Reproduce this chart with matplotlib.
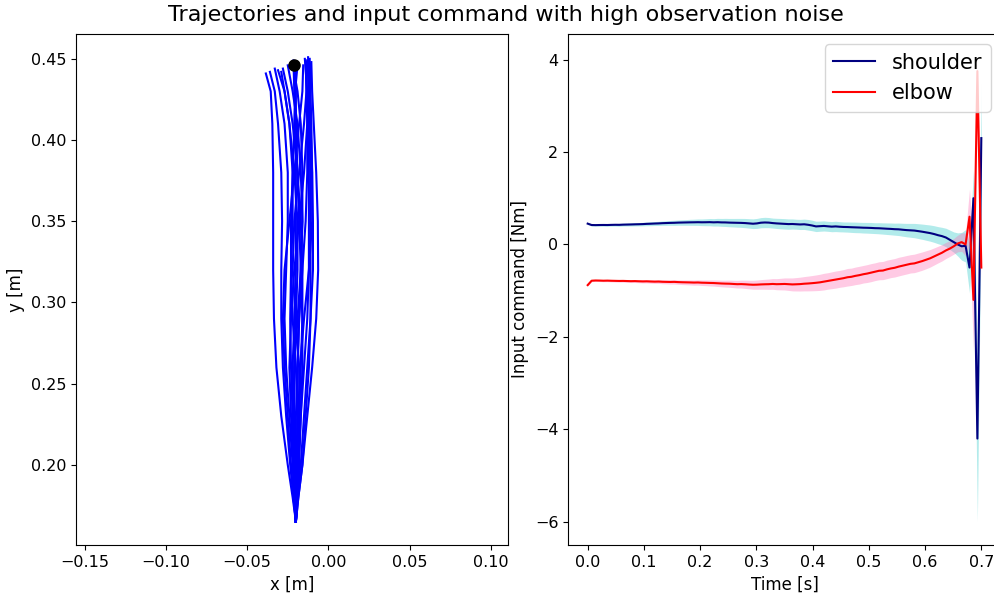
import numpy as np
import matplotlib
matplotlib.use("Agg")
import matplotlib.pyplot as plt

plt.rcParams['font.size'] = 12
plt.rcParams['xtick.labelsize'] = 11.5
plt.rcParams['ytick.labelsize'] = 11.5

# ---------------- data: left panel (hand trajectories) ----------------
traj_y_levels = [0.165, 0.18, 0.20, 0.23, 0.26, 0.29, 0.32, 0.35, 0.38, 0.41, 0.43]
traj_x = [
    [-0.020, -0.022, -0.025, -0.029, -0.032, -0.0335, -0.034, -0.034, -0.034, -0.0345, -0.0355],
    [-0.020, -0.0215, -0.0235, -0.026, -0.028, -0.029, -0.029, -0.0285, -0.029, -0.031, -0.033],
    [-0.020, -0.021, -0.022, -0.024, -0.026, -0.027, -0.026, -0.025, -0.025, -0.027, -0.030],
    [-0.020, -0.0205, -0.021, -0.022, -0.023, -0.0235, -0.023, -0.022, -0.022, -0.024, -0.027],
    [-0.020, -0.020, -0.0205, -0.021, -0.021, -0.020, -0.019, -0.019, -0.021, -0.024, -0.027],
    [-0.020, -0.019, -0.018, -0.017, -0.016, -0.016, -0.017, -0.018, -0.019, -0.022, -0.025],
    [-0.020, -0.0195, -0.019, -0.019, -0.019, -0.018, -0.017, -0.016, -0.017, -0.019, -0.022],
    [-0.020, -0.0205, -0.021, -0.022, -0.022, -0.021, -0.020, -0.020, -0.020, -0.020, -0.021],
    [-0.020, -0.0195, -0.019, -0.018, -0.017, -0.016, -0.016, -0.017, -0.019, -0.020, -0.020],
    [-0.020, -0.019, -0.017, -0.015, -0.013, -0.011, -0.0095, -0.0095, -0.010, -0.011, -0.012],
    [-0.020, -0.0185, -0.016, -0.013, -0.010, -0.0075, -0.0063, -0.0065, -0.0075, -0.009, -0.010],
    [-0.020, -0.0185, -0.016, -0.014, -0.012, -0.011, -0.011, -0.011, -0.011, -0.0115, -0.012],
    [-0.020, -0.0195, -0.0185, -0.017, -0.015, -0.013, -0.012, -0.012, -0.012, -0.012, -0.013],
    [-0.020, -0.020, -0.020, -0.020, -0.019, -0.018, -0.016, -0.014, -0.013, -0.013, -0.0135],
    [-0.020, -0.0205, -0.0215, -0.023, -0.024, -0.023, -0.021, -0.018, -0.015, -0.013, -0.012],
    [-0.020, -0.0195, -0.0185, -0.0175, -0.018, -0.020, -0.022, -0.021, -0.018, -0.015, -0.0135],
    [-0.020, -0.0205, -0.021, -0.0215, -0.021, -0.019, -0.017, -0.016, -0.016, -0.017, -0.019],
    [-0.020, -0.0215, -0.023, -0.025, -0.027, -0.028, -0.027, -0.024, -0.021, -0.018, -0.016],
    [-0.020, -0.0195, -0.019, -0.0185, -0.0175, -0.015, -0.012, -0.010, -0.010, -0.0105, -0.011],
    [-0.020, -0.020, -0.0195, -0.019, -0.020, -0.022, -0.023, -0.023, -0.022, -0.021, -0.0205],
]
traj_end_x = [-0.0385, -0.036, -0.033, -0.031, -0.029, -0.028, -0.025, -0.0215, -0.020, -0.013,
              -0.0105, -0.0125, -0.0145, -0.014, -0.0115, -0.0135, -0.0215, -0.0155, -0.0115, -0.019]
traj_end_y = [0.441, 0.442, 0.444, 0.443, 0.442, 0.444, 0.446, 0.449, 0.447, 0.449,
              0.448, 0.451, 0.450, 0.449, 0.447, 0.448, 0.444, 0.446, 0.450, 0.446]
target_x = -0.0209
target_y = 0.446

# ---------------- data: right panel (input commands) ----------------
n_steps = 101
dt = 0.007
shoulder_mean = [
    0.45, 0.42, 0.418, 0.42, 0.421, 0.42, 0.423, 0.425, 0.424, 0.428, 0.43,
    0.432, 0.435, 0.437, 0.44, 0.445, 0.448, 0.452, 0.455, 0.46, 0.463,
    0.466, 0.468, 0.472, 0.474, 0.476, 0.478, 0.479, 0.481, 0.479, 0.48,
    0.482, 0.478, 0.481, 0.477, 0.476, 0.472, 0.47, 0.468, 0.466, 0.462,
    0.455, 0.448, 0.455, 0.47, 0.475, 0.472, 0.462, 0.455, 0.45, 0.445,
    0.44, 0.442, 0.437, 0.432, 0.436, 0.425, 0.41, 0.39, 0.395, 0.40,
    0.392, 0.385, 0.39, 0.383, 0.378, 0.376, 0.372, 0.369, 0.366, 0.362,
    0.36, 0.357, 0.352, 0.35, 0.345, 0.34, 0.336, 0.33, 0.327, 0.318,
    0.31, 0.305, 0.30, 0.288, 0.275, 0.26, 0.245, 0.225, 0.2, 0.18,
    0.15, 0.1, 0.05, 0.0, -0.04, -0.03, -0.5, 1.0, -4.2, 2.3,
]
shoulder_std = [
    0.02, 0.02, 0.02, 0.022, 0.024, 0.025, 0.026, 0.028, 0.03, 0.03, 0.032,
    0.033, 0.035, 0.036, 0.038, 0.04, 0.042, 0.043, 0.045, 0.047, 0.05,
    0.052, 0.055, 0.057, 0.06, 0.062, 0.065, 0.067, 0.07, 0.072, 0.075,
    0.078, 0.08, 0.083, 0.085, 0.088, 0.09, 0.092, 0.095, 0.097, 0.1,
    0.102, 0.105, 0.108, 0.11, 0.112, 0.11, 0.108, 0.11, 0.112, 0.113,
    0.112, 0.11, 0.108, 0.11, 0.112, 0.115, 0.114, 0.112, 0.11, 0.11,
    0.108, 0.11, 0.112, 0.11, 0.108, 0.11, 0.112, 0.114, 0.113, 0.115,
    0.116, 0.118, 0.117, 0.12, 0.122, 0.125, 0.128, 0.13, 0.135, 0.14,
    0.145, 0.15, 0.155, 0.16, 0.165, 0.17, 0.175, 0.18, 0.185, 0.19,
    0.2, 0.21, 0.22, 0.25, 0.3, 0.35, 0.55, 0.6, 1.8, 1.2,
]
elbow_mean = [
    -0.88, -0.785, -0.78, -0.782, -0.785, -0.783, -0.786, -0.788, -0.79, -0.789, -0.792,
    -0.795, -0.793, -0.797, -0.8, -0.798, -0.802, -0.805, -0.803, -0.808, -0.81,
    -0.812, -0.81, -0.815, -0.818, -0.82, -0.822, -0.825, -0.823, -0.828, -0.83,
    -0.833, -0.835, -0.84, -0.845, -0.848, -0.85, -0.855, -0.86, -0.858, -0.862,
    -0.868, -0.872, -0.87, -0.865, -0.862, -0.86, -0.855, -0.86, -0.858, -0.855,
    -0.86, -0.865, -0.862, -0.858, -0.85, -0.845, -0.838, -0.83, -0.82, -0.805,
    -0.79, -0.775, -0.76, -0.745, -0.73, -0.71, -0.7, -0.68, -0.665, -0.645,
    -0.63, -0.61, -0.59, -0.57, -0.565, -0.54, -0.52, -0.505, -0.48, -0.46,
    -0.44, -0.42, -0.41, -0.385, -0.36, -0.33, -0.3, -0.26, -0.22, -0.18,
    -0.13, -0.09, -0.04, 0.02, 0.05, 0.0, 0.6, -1.2, 3.75, -0.5,
]
elbow_std = [
    0.02, 0.02, 0.02, 0.021, 0.022, 0.023, 0.024, 0.025, 0.026, 0.027, 0.028,
    0.03, 0.031, 0.032, 0.034, 0.035, 0.037, 0.038, 0.04, 0.042, 0.043,
    0.045, 0.047, 0.048, 0.05, 0.052, 0.054, 0.056, 0.058, 0.06, 0.062,
    0.065, 0.067, 0.07, 0.072, 0.075, 0.078, 0.08, 0.083, 0.086, 0.09,
    0.093, 0.097, 0.1, 0.104, 0.108, 0.112, 0.116, 0.12, 0.125, 0.13,
    0.135, 0.14, 0.145, 0.15, 0.155, 0.16, 0.165, 0.17, 0.175, 0.18,
    0.178, 0.182, 0.185, 0.183, 0.186, 0.19, 0.188, 0.19, 0.192, 0.19,
    0.193, 0.195, 0.192, 0.195, 0.197, 0.2, 0.198, 0.2, 0.202, 0.2,
    0.2, 0.198, 0.2, 0.2, 0.198, 0.195, 0.19, 0.185, 0.18, 0.178,
    0.175, 0.17, 0.17, 0.18, 0.2, 0.25, 0.6, 1.1, 0.3, 0.2,
]

# ---------------- figure ----------------
W, H = 995, 595
fig = plt.figure(figsize=(W / 100, H / 100), dpi=100)
ax1 = fig.add_axes([76 / W, 1 - 545 / H, 432 / W, 511 / H])
ax2 = fig.add_axes([568 / W, 1 - 545 / H, 433 / W, 511 / H])

for xs, ex, ey in zip(traj_x, traj_end_x, traj_end_y):
    ax1.plot(list(xs) + [ex], list(traj_y_levels) + [ey], color='blue', lw=1.5)
ax1.plot([target_x], [target_y], 'o', color='black', markersize=8)
ax1.set_aspect('equal', adjustable='datalim')
ax1.set_xlabel('x [m]')
ax1.set_ylabel('y [m]')

t = np.arange(n_steps) * dt
sm = np.array(shoulder_mean); ss = np.array(shoulder_std)
em = np.array(elbow_mean); es = np.array(elbow_std)
ax2.fill_between(t, sm - ss, sm + ss, color='c', alpha=0.3, lw=0)
ax2.plot(t, sm, color='navy', lw=1.5, label='shoulder')
ax2.fill_between(t, em - es, em + es, color='hotpink', alpha=0.35, lw=0)
ax2.plot(t, em, color='red', lw=1.5, label='elbow')
ax2.set_xlabel('Time [s]')
ax2.set_ylabel('Input command [Nm]')
ax2.set_xticks([0.0, 0.1, 0.2, 0.3, 0.4, 0.5, 0.6, 0.7])
ax2.legend(loc='upper right', fontsize=15)

fig.suptitle('Trajectories and input command with high observation noise',
             x=506 / W, y=1 - 15 / H, va='center', fontsize=16)

fig.savefig('out.png', dpi=100)
